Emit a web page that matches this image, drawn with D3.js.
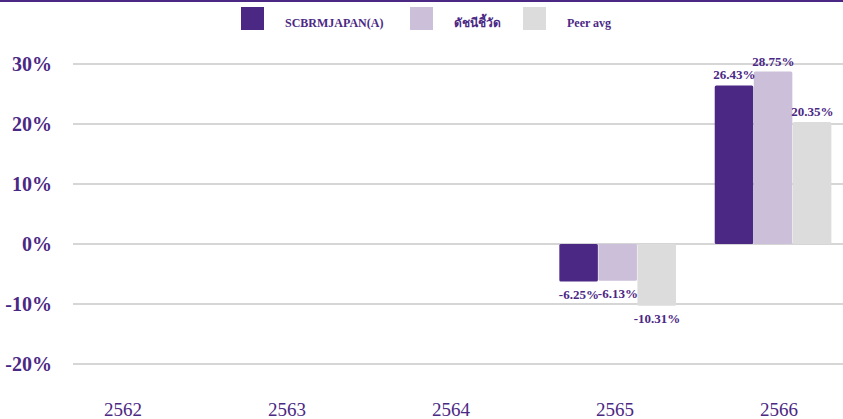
<!DOCTYPE html>
<html lang="th">
<head>
<meta charset="UTF-8">
<script src="https://d3js.org/d3.v7.min.js"></script>
<title>SCBRMJAPAN(A) yearly return</title>
<style>
  body { margin: 0; background: #fff; }
  svg { display: block; font-family: "Liberation Serif", "Times New Roman", serif; }
</style>
</head>
<body>
<script>
    var years = ["2562", "2563", "2564", "2565", "2566"];
    var seriesNames = ["SCBRMJAPAN(A)", "ดัชนีชี้วัด", "Peer avg"];
    var fund = [null, null, null, -6.25, 26.43];
    var benchmark = [null, null, null, -6.13, 28.75];
    var peer = [null, null, null, -10.31, 20.35];
    var yTicks = [30, 20, 10, 0, -10, -20];

    var colors = ["#4b2884", "#cbbfd9", "#dcdcdc"];
    var textColor = "#4b2884";
    var W = 843, H = 419;

    var svg = d3.select("body").append("svg").attr("width", W).attr("height", H);

    // top border line
    svg.append("rect").attr("x", 0).attr("y", 0).attr("width", W).attr("height", 2).attr("fill", textColor);

    var y = d3.scaleLinear().domain([-20, 30]).range([364, 64]);
    var x = d3.scaleBand().domain(years).range([74, 851]).paddingInner(0).paddingOuter(0);
    var x1 = d3.scaleBand().domain(seriesNames).range([0, x.bandwidth()]).paddingInner(0).paddingOuter(0.49);
    // category labels sit on their own spread
    var xLab = d3.scalePoint().domain(years).range([123, 779]);

    // grid
    svg.append("g").selectAll("line").data(yTicks).join("line")
        .attr("x1", 73).attr("x2", W)
        .attr("y1", d => y(d)).attr("y2", d => y(d))
        .attr("stroke", "#d6d6d6").attr("stroke-width", 2);

    // y labels
    svg.append("g").selectAll("text").data(yTicks).join("text")
        .attr("x", 52).attr("y", d => y(d) + 7)
        .attr("text-anchor", "end")
        .attr("fill", textColor).attr("font-weight", "bold").attr("font-size", 20)
        .text(d => d + "%");

    // x labels
    svg.append("g").selectAll("text").data(years).join("text")
        .attr("x", d => xLab(d))
        .attr("y", 416)
        .attr("text-anchor", "middle")
        .attr("fill", textColor).attr("font-size", 19)
        .text(d => d);

    var rows = [];
    var all = [fund, benchmark, peer];
    years.forEach(function(yr, i) {
        all.forEach(function(arr, s) {
            if (arr[i] != null) rows.push({ year: yr, s: s, v: arr[i] });
        });
    });

    svg.append("g").selectAll("rect").data(rows).join("rect")
        .attr("x", d => x(d.year) + x1(seriesNames[d.s]))
        .attr("width", x1.bandwidth() - 0.5)
        .attr("y", d => Math.min(y(d.v), y(0)))
        .attr("height", d => Math.abs(y(d.v) - y(0)))
        .attr("rx", 1.5)
        .attr("fill", d => colors[d.s]);

    svg.append("g").selectAll("text").data(rows).join("text")
        .attr("x", d => x(d.year) + x1(seriesNames[d.s]) + x1.bandwidth() / 2)
        .attr("y", d => d.v >= 0 ? y(d.v) - 6 : y(d.v) + 17)
        .attr("text-anchor", "middle")
        .attr("fill", textColor).attr("font-weight", "bold").attr("font-size", 13)
        .text(d => d.v.toFixed(2) + "%");

    // legend
    var legX = [241, 410, 523];
    var leg = svg.append("g").selectAll("g").data(seriesNames).join("g")
        .attr("transform", (d, i) => "translate(" + legX[i] + ",7)");
    leg.append("rect").attr("width", 23).attr("height", 23)
        .attr("fill", (d, i) => colors[i]);
    leg.append("text").attr("x", 44).attr("y", 20)
        .attr("fill", textColor).attr("font-weight", "bold").attr("font-size", 12)
        .text(d => d);
</script>
</body>
</html>
